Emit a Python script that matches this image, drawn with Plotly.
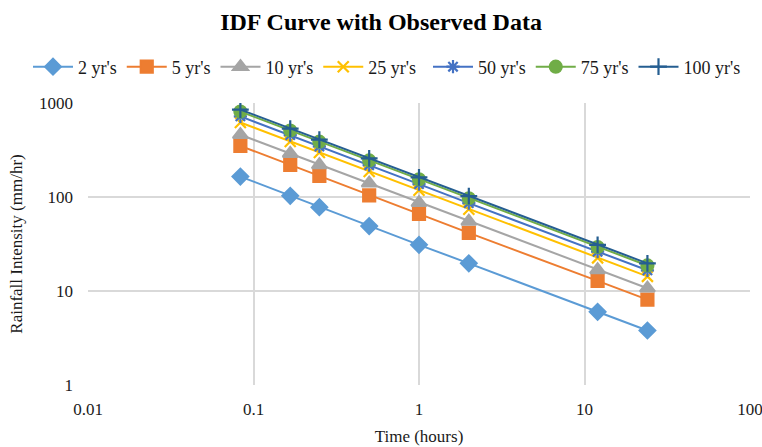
import plotly.graph_objects as go

durations = [0.0833, 0.1667, 0.25, 0.5, 1, 2, 12, 24]
series_names = ["2 yr's", "5 yr's", "10 yr's", "25 yr's", "50 yr's", "75 yr's", "100 yr's"]
yr2 = [165, 103, 78, 49, 31, 19.7, 6.0, 3.8]
yr5 = [350, 220, 168, 104, 66, 41.5, 12.8, 8.1]
yr10 = [460, 290, 220, 140, 87, 55, 16.8, 10.7]
yr25 = [620, 390, 297, 187, 118, 74, 22.5, 14.3]
yr50 = [720, 455, 345, 218, 137, 86, 26.2, 16.6]
yr75 = [810, 510, 388, 245, 154, 97, 29.4, 18.7]
yr100 = [850, 535, 408, 257, 162, 102, 31, 19.7]
x_ticks = [0.01, 0.1, 1, 10, 100]
x_tick_labels = ["0.01", "0.1", "1", "10", "100"]
y_ticks = [1, 10, 100, 1000]
y_tick_labels = ["1", "10", "100", "1000"]

all_series = [yr2, yr5, yr10, yr25, yr50, yr75, yr100]
colors = ["#5B9BD5", "#ED7D31", "#A5A5A5", "#FFC000", "#4472C4", "#70AD47", "#255E91"]
symbols = ["diamond", "square", "triangle-up", "x-thin-open", "asterisk-open", "circle", "cross-thin-open"]
sizes = [12, 12, 13, 11, 11, 12, 12]
legend_ids = ["legend", "legend", "legend", "legend", "legend2", "legend2", "legend2"]

fig = go.Figure()
for name, vals, c, s, sz, lg in zip(series_names, all_series, colors, symbols, sizes, legend_ids):
    fig.add_trace(go.Scatter(
        x=durations, y=vals, name=name, mode="lines+markers",
        line=dict(color=c, width=2), legend=lg,
        marker=dict(symbol=s, size=sz, color=c, line=dict(color=c, width=2.2)),
    ))

font = "Liberation Serif, Times New Roman, serif"
txt = "#1a1a1a"
leg_common = dict(orientation="h", xref="container", xanchor="left",
                  yref="container", y=1 - 67 / 447, yanchor="middle",
                  font=dict(size=18, color=txt, family=font), itemwidth=40,
                  tracegroupgap=0, bgcolor="rgba(0,0,0,0)")
fig.update_layout(
    width=762, height=447,
    margin=dict(l=88, r=12, t=103, b=62, autoexpand=False),
    paper_bgcolor="white", plot_bgcolor="white",
    font=dict(family=font, size=17, color=txt),
    title=dict(text="<b>IDF Curve with Observed Data</b>", x=0.5, xanchor="center",
               y=0.951, yanchor="middle", font=dict(size=24, color="#000000", family=font)),
    legend=dict(x=28 / 762, **leg_common),
    legend2=dict(x=428 / 762, **leg_common),
    showlegend=True,
)
fig.update_xaxes(type="log", range=[-2, 2], tickvals=x_ticks, ticktext=x_tick_labels,
                 showgrid=True, gridcolor="#D9D9D9", gridwidth=1.5, zeroline=False,
                 showline=False, ticks="", ticklabelstandoff=12, automargin=False,
                 ticklabeloverflow="allow",
                 title=dict(text="Time (hours)", font=dict(size=17, color=txt, family=font), standoff=12),
                 tickfont=dict(size=17, color=txt, family=font))
fig.update_yaxes(type="log", range=[0, 3], tickvals=y_ticks, ticktext=y_tick_labels,
                 showgrid=True, gridcolor="#D9D9D9", gridwidth=1.5, zeroline=False,
                 showline=False, ticks="", ticklabelstandoff=14, automargin=False,
                 title=dict(text="Rainfall Intensity (mm/hr)", font=dict(size=17, color=txt, family=font), standoff=12),
                 tickfont=dict(size=17, color=txt, family=font))

fig.write_html("out.html", config={"displayModeBar": False},
               post_script="document.body.style.margin='0';document.body.style.overflow='hidden';")
